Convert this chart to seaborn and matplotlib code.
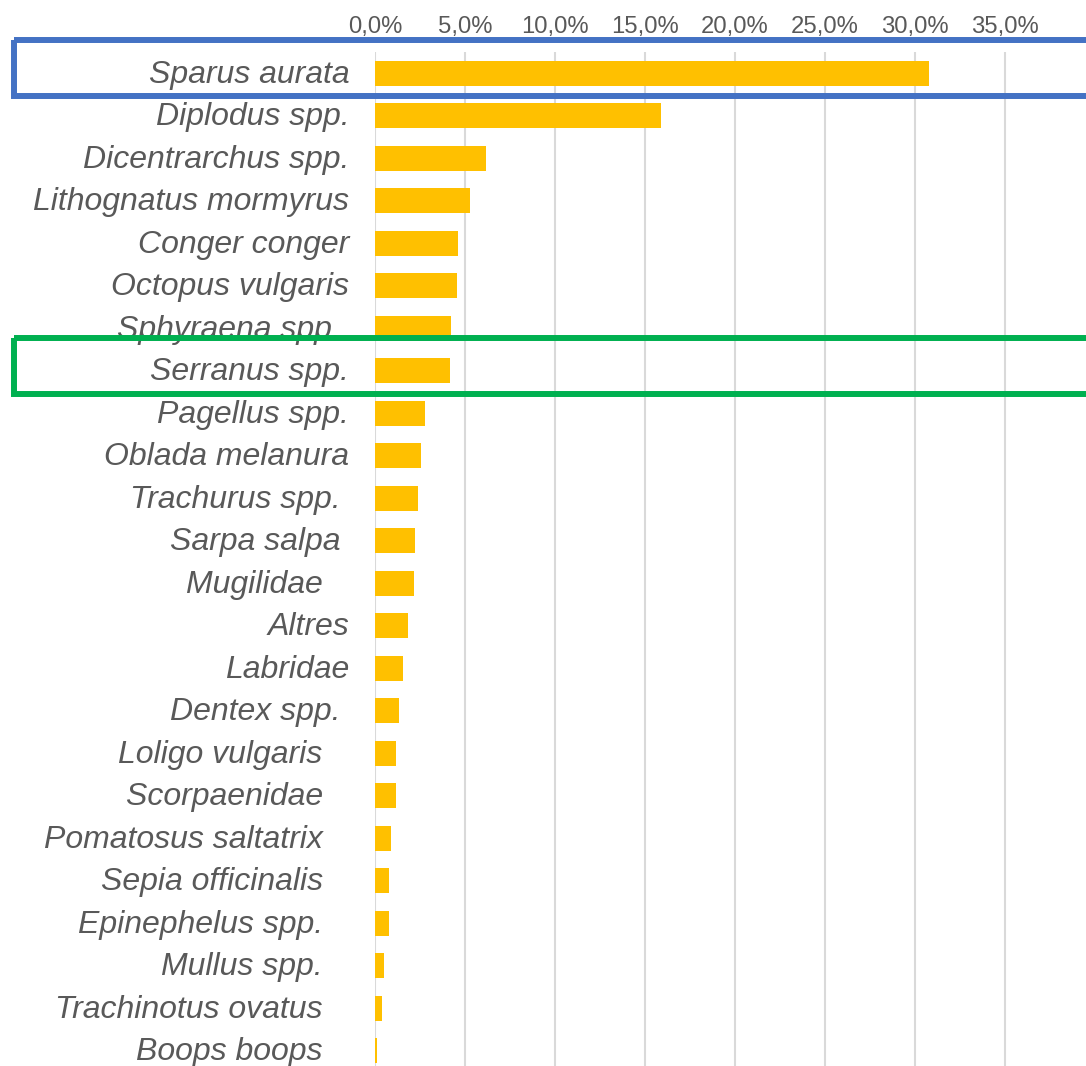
"""
Species share of catch - horizontal bar chart with two highlighted rows
"""

import matplotlib
matplotlib.use("Agg")
import matplotlib.pyplot as plt
import matplotlib.patches as mpatches
import matplotlib.transforms as mtransforms
import seaborn as sns

sns.set_theme(style="white")
plt.rcParams["font.family"] = ["Liberation Sans", "DejaVu Sans"]

# ---------------------------------------------------------------------------
# data (% of total); trailing spaces keep the
# original label offsets
# ---------------------------------------------------------------------------
species = [
    "Sparus aurata", "Diplodus spp.", "Dicentrarchus spp.", "Lithognatus mormyrus",
    "Conger conger", "Octopus vulgaris", "Sphyraena spp. ", "Serranus spp.",
    "Pagellus spp.", "Oblada melanura", "Trachurus spp. ", "Sarpa salpa ",
    "Mugilidae   ", "Altres", "Labridae", "Dentex spp. ",
    "Loligo vulgaris   ", "Scorpaenidae   ", "Pomatosus saltatrix   ",
    "Sepia officinalis   ", "Epinephelus spp.   ", "Mullus spp.   ",
    "Trachinotus ovatus   ", "Boops boops   ",
]
share = [
    30.8, 15.9, 6.17, 5.28,
    4.59, 4.55, 4.22, 4.15,
    2.8, 2.54, 2.37, 2.22,
    2.15, 1.83, 1.54, 1.32,
    1.15, 1.15, 0.91,
    0.76, 0.76, 0.52,
    0.37, 0.13,
]
ticks = [0, 5, 10, 15, 20, 25, 30, 35]
highlight_blue = "Sparus aurata"
highlight_green = "Serranus spp."

BAR = "#FFC000"
GREY = "#595959"
GRID = "#D9D9D9"

fig = plt.figure(figsize=(10.86, 10.66), dpi=100)
ax = fig.add_axes([375 / 1086, 0.0, 1 - 375 / 1086, 1 - 52 / 1066])

sns.barplot(x=share, y=species, color=BAR, saturation=1, orient="h",
            width=0.59, linewidth=0, ax=ax)

ax.set_xlim(0, 39.5)
ax.set_ylim(23.36, -0.5)
ax.set_xticks(ticks)
ax.set_xticklabels([f"{t:.1f}%".replace(".", ",") for t in ticks])
ax.xaxis.tick_top()
ax.tick_params(axis="x", length=0, pad=10, labelsize=17.2, labelcolor=GREY)
ax.tick_params(axis="y", length=0, pad=18.5, labelsize=23, labelcolor=GREY)
# nudge the species names up a little, like the original
shift = mtransforms.ScaledTranslation(0, 2 / 100, fig.dpi_scale_trans)
for lab in ax.get_yticklabels():
    lab.set_fontstyle("italic")
    lab.set_transform(lab.get_transform() + shift)
ax.set_xlabel(""); ax.set_ylabel("")
ax.grid(axis="x", color=GRID, linewidth=1.5)
ax.grid(axis="y", visible=False)
ax.set_axisbelow(True)
for s in ax.spines.values():
    s.set_visible(False)

# highlight boxes: x in figure fraction, y in category units
trans = mtransforms.blended_transform_factory(fig.transFigure, ax.transData)
for name, col in [(highlight_blue, "#4472C4"), (highlight_green, "#00B050")]:
    i = species.index(name)
    box = mpatches.Rectangle((14 / 1086, i - 0.78), 1.2, 1.32, transform=trans,
                             fill=False, edgecolor=col, linewidth=4.3, clip_on=False)
    fig.add_artist(box)

plt.savefig("out.png", dpi=100)
